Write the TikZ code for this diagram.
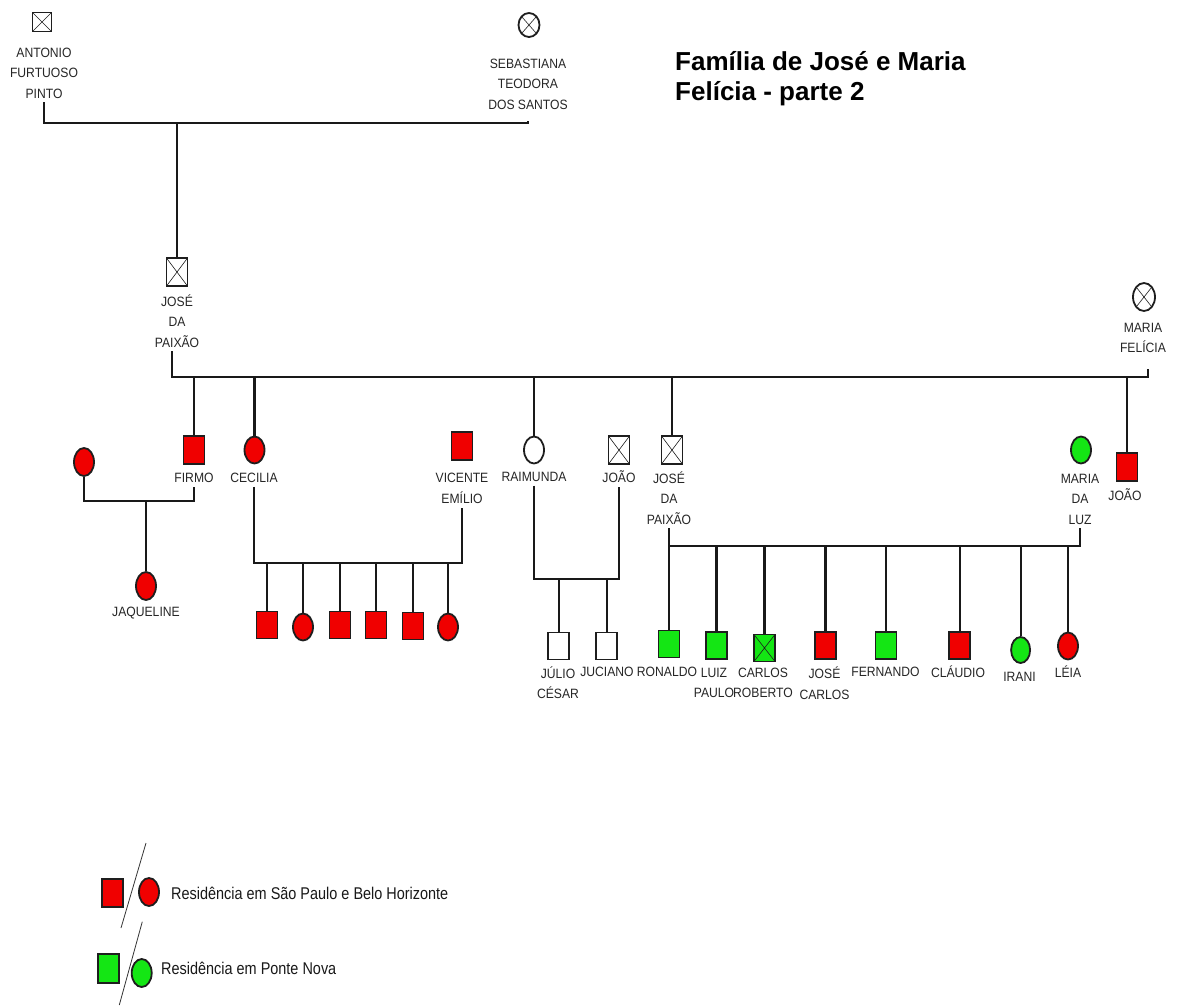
\documentclass[tikz,border=0pt]{standalone}
\usepackage{fontspec}
\setmainfont{Liberation Sans}
\newfontfamily\lblfont[FakeStretch=0.9]{Liberation Sans}
\newfontfamily\legfont[FakeStretch=0.85]{Liberation Sans}
\usetikzlibrary{shapes.geometric,calc}
\definecolor{pred}{RGB}{240,0,0}
\definecolor{pgreen}{RGB}{20,230,20}
\definecolor{bordc}{RGB}{30,30,30}
\tikzset{
  sq/.style={rectangle,draw=bordc,line width=1.8pt,minimum width=21pt,minimum height=27pt,inner sep=0pt,fill=white},
  ci/.style={ellipse,draw=bordc,line width=1.8pt,minimum width=20pt,minimum height=27pt,inner sep=0pt,fill=white},
  rd/.style={fill=pred},
  gr/.style={fill=pgreen},
  dead/.style={path picture={\draw[line width=0.6pt,bordc]
      (path picture bounding box.north west)--(path picture bounding box.south east)
      (path picture bounding box.north east)--(path picture bounding box.south west);}},
  lbl/.style={font=\lblfont\fontsize{13.5}{20.5}\selectfont,align=center,inner sep=0pt,outer sep=4pt,text=black!85},
  conn/.style={line width=2.1pt,draw=black!90},
  leg/.style={font=\legfont\fontsize{17}{20}\selectfont,anchor=west,inner sep=0pt,text=black!90},
}
\begin{document}
\begin{tikzpicture}[x=1pt,y=-1pt]
\useasboundingbox[fill=white] (0,0) rectangle (1181,1005);

% title
\node[anchor=base west,inner sep=0pt,font=\bfseries\fontsize{26}{30}\selectfont] (t1) at (675,70) {Família de José e Maria};
\node[anchor=base west,inner sep=0pt,font=\bfseries\fontsize{26}{30}\selectfont] (t2) at (675,100) {Felícia - parte 2};

% generation 1
\node[sq,dead,minimum width=19pt,minimum height=19pt] (ant) at (42,22) {};
\node[lbl] (antL) at (44,73) {ANTONIO\\FURTUOSO\\PINTO};
\node[ci,dead,minimum width=21pt,minimum height=24pt] (seb) at (529,25) {};
\node[lbl] (sebL) at (528,84) {SEBASTIANA\\TEODORA\\DOS SANTOS};
\coordinate (m1) at (177,123);
\draw[conn] (antL.south) |- (m1) -| ($(sebL.south)+(0,8)$);

% generation 2
\node[sq,dead,minimum height=28pt] (jp) at (177,272) {};
\draw[conn] (m1) -- (jp.north);
\node[lbl] (jpL) at (177,321) {JOSÉ\\DA\\PAIXÃO};
\node[ci,dead,minimum width=22pt,minimum height=28pt] (mf) at (1144,297) {};
\node[lbl] (mfL) at (1143,338) {MARIA\\FELÍCIA};
\coordinate (m2) at (650,377);
\draw[conn] ([xshift=-5pt]jpL.south) |- (m2) -| ($(mfL.south)+(5,12)$);

% generation 3
\node[sq,rd,minimum height=28pt] (firmo) at (194,450) {};
\node[lbl] (firmoL) at (194,478) {FIRMO};
\node[ci,rd] (cec) at (254.5,450) {};
\node[lbl] (cecL) at (254,478) {CECILIA};
\node[sq,rd,minimum height=28pt] (vic) at (462,446) {};
\node[lbl] (vicL) at (462,488.5) {VICENTE\\EMÍLIO};
\node[ci] (rai) at (534,450) {};
\node[lbl] (raiL) at (534,477) {RAIMUNDA};
\node[sq,dead,minimum height=28pt] (joaoA) at (619,450) {};
\node[lbl] (joaoAL) at (619,477) {JOÃO};
\node[sq,dead,minimum height=28pt] (jose2) at (672,450) {};
\node[lbl] (jose2L) at (669,498) {JOSÉ\\DA\\PAIXÃO};
\node[ci,gr] (mdl) at (1081,450) {};
\node[lbl] (mdlL) at (1080,499) {MARIA\\DA\\LUZ};
\node[sq,rd,minimum height=28pt] (joaoB) at (1127,467) {};
\node[lbl] (joaoBL) at (1125,495) {JOÃO};
\node[ci,rd,minimum height=28pt] (wifeF) at (84,462) {};

\foreach \n in {firmo,cec,rai,jose2,joaoB}
  \draw[conn] (\n.north) -- (\n.north |- m2);

% Firmo's family
\coordinate (cf) at (146,501);
\draw[conn] (wifeF.south) |- (cf) -| (firmoL.south);
\node[ci,rd,minimum height=28pt] (jaq) at (146,586) {};
\node[lbl] (jaqL) at (146,613) {JAQUELINE};
\draw[conn] (cf) -- (jaq.north);

% Cecilia's family
\coordinate (cc) at (358,563);
\draw[conn] (cecL.south) |- (cc) -| (vicL.south);
\node[sq,rd] (k1) at (267,625) {};
\node[ci,rd] (k2) at (303,627) {};
\node[sq,rd] (k3) at (340,625) {};
\node[sq,rd] (k4) at (376,625) {};
\node[sq,rd] (k5) at (413,626) {};
\node[ci,rd] (k6) at (448,627) {};
\foreach \n in {k1,k2,k3,k4,k5,k6}
  \draw[conn] (\n.north) -- (\n.north |- cc);

% Raimunda's family
\coordinate (cr) at (576,579);
\draw[conn] (raiL.south) |- (cr) -| (joaoAL.south);
\node[sq] (julio) at (558.6,646) {};
\node[lbl] (julioL) at (558,682.5) {JÚLIO\\CÉSAR};
\node[sq] (juc) at (606.7,646) {};
\node[lbl] (jucL) at (607,672) {JUCIANO};
\foreach \n in {julio,juc}
  \draw[conn] (\n.north) -- (\n.north |- cr);

% José da Paixão (2) and Maria da Luz
\coordinate (cj) at (870,546);
\draw[conn] (jose2L.south) |- (cj) -| (mdlL.south);
\node[sq,gr] (ron) at (669,644) {};
\node[lbl] (ronL) at (667,672) {RONALDO};
\node[sq,gr] (luiz) at (716.5,645.5) {};
\node[lbl] (luizL) at (714,683) {LUIZ\\PAULO};
\node[sq,gr,dead] (carlos) at (764.5,648) {};
\node[lbl] (carlosL) at (763,683) {CARLOS\\ROBERTO};
\node[sq,rd] (jose3) at (825.5,645.5) {};
\node[lbl] (jose3L) at (824.5,683) {JOSÉ\\CARLOS};
\node[sq,gr] (fern) at (886,645.5) {};
\node[lbl] (fernL) at (885.5,672) {FERNANDO};
\node[sq,rd] (clau) at (959.6,645.5) {};
\node[lbl] (clauL) at (958,672) {CLÁUDIO};
\node[ci,gr,minimum width=19pt,minimum height=26pt] (irani) at (1020.6,650) {};
\node[lbl] (iraniL) at (1019.5,677) {IRANI};
\node[ci,rd] (leia) at (1068,646) {};
\node[lbl] (leiaL) at (1068,672) {LÉIA};
\foreach \n in {ron,luiz,carlos,jose3,fern,clau,irani,leia}
  \draw[conn] (\n.north) -- (\n.north |- cj);

% legend
\node[sq,rd,minimum height=28pt] (lsq1) at (112.5,893) {};
\node[ci,rd,minimum height=28pt] (lci1) at (149,892) {};
\draw[line width=0.8pt,black!80] (146,843) -- (121,928);
\node[leg] (leg1) at (171,893) {Residência em São Paulo e Belo Horizonte};
\node[sq,gr,minimum height=29pt] (lsq2) at (108.5,968.5) {};
\node[ci,gr,minimum height=28pt] (lci2) at (141.7,973) {};
\draw[line width=0.8pt,black!80] (142.3,921.7) -- (119.3,1005);
\node[leg] (leg2) at (161,968) {Residência em Ponte Nova};
\end{tikzpicture}
\end{document}
